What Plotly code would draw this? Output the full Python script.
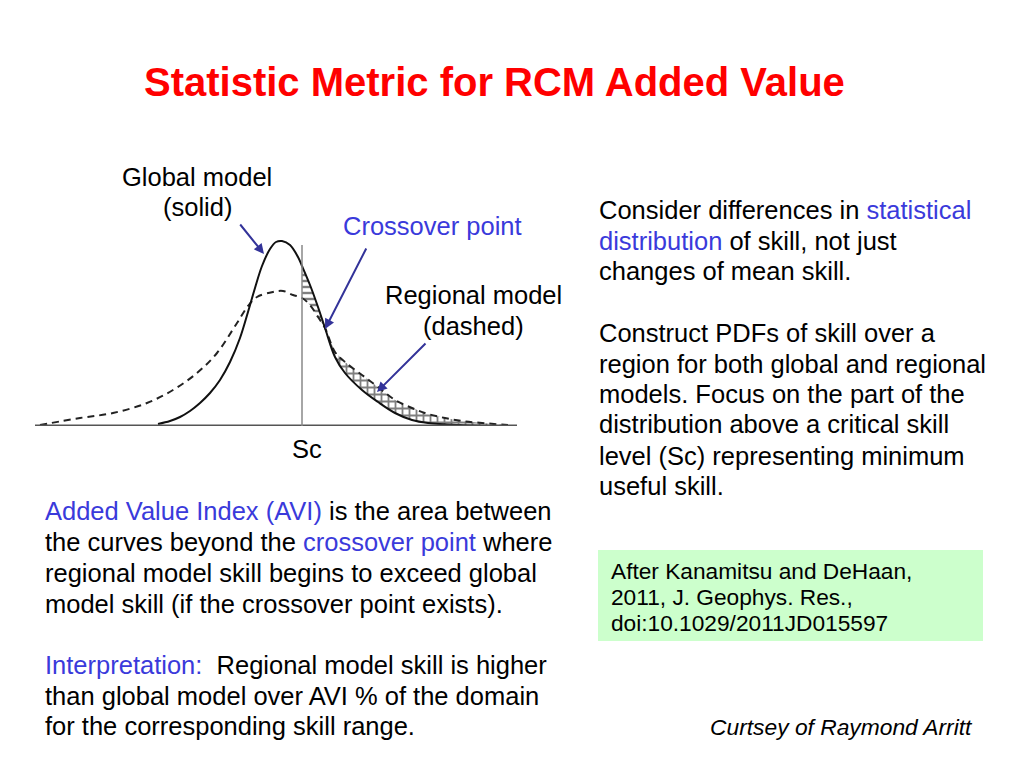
import plotly.graph_objects as go

# ---------------- data ----------------
# skill axis (arbitrary units) and PDF heights (arbitrary units)
global_skill = [158, 170, 180, 190, 200, 210, 220, 230, 240, 248, 255, 262, 270, 276, 282,
                290, 298, 302, 310, 318, 325, 335, 345, 362, 378, 395, 412, 428, 460, 510]
global_pdf = [2, 5, 9, 15, 23, 33, 46, 64, 88, 114, 138, 160, 177, 184, 185,
              181, 169, 160, 141, 119, 98, 69, 53, 36, 24, 13, 6, 3, 1, 0]

regional_skill = [40, 80, 113, 147, 173, 197, 217, 237, 248, 257, 273, 283, 293, 302, 310, 318, 325,
                  335, 345, 362, 378, 395, 412, 428, 445, 462, 482, 508]
regional_pdf = [1, 8, 13, 23, 36, 53, 73, 103, 120, 129, 134, 135, 131, 128, 121, 109, 98,
                74, 64, 51, 39, 26, 18, 12, 8, 5, 3, 1]

sc_value = 302          # critical skill level
crossover_value = 325   # crossover point
sc_line_top = 181

# ---------------- helpers ----------------
W, H = 1024, 768
FONT = "Liberation Sans, Arial, Helvetica, sans-serif"
BLUE = "#3A3ADB"
NAVY = "#333399"


def px(x):
    return x / W


def py(y):
    return 1 - y / H


fig = go.Figure()

# hatched region between Sc and crossover (global above regional)
h1_x = [s for s in global_skill if sc_value <= s <= crossover_value]
h1_y = [p for s, p in zip(global_skill, global_pdf) if sc_value <= s <= crossover_value]
r_part = [(s, p) for s, p in zip(regional_skill, regional_pdf) if sc_value <= s < crossover_value]
h1_x += [s for s, p in reversed(r_part)]
h1_y += [p for s, p in reversed(r_part)]
fig.add_trace(go.Scatter(x=h1_x, y=h1_y, fill="toself", mode="lines",
                         line=dict(width=0), fillcolor="rgba(255,255,255,0)",
                         fillpattern=dict(shape="-", fgcolor="black", bgcolor="white",
                                          size=6, solidity=0.4),
                         hoverinfo="skip", showlegend=False))

# cross-hatched region beyond crossover (regional above global) = AVI
h2 = [(s, p) for s, p in zip(regional_skill, regional_pdf) if s >= crossover_value]
g_part = [(s, p) for s, p in zip(global_skill, global_pdf) if s >= crossover_value]
h2_x = [s for s, p in h2] + [s for s, p in reversed(g_part)]
h2_y = [p for s, p in h2] + [p for s, p in reversed(g_part)]
fig.add_trace(go.Scatter(x=h2_x, y=h2_y, fill="toself", mode="lines",
                         line=dict(width=0), fillcolor="rgba(255,255,255,0)",
                         fillpattern=dict(shape="+", fgcolor="black", bgcolor="white",
                                          size=7, solidity=0.45),
                         hoverinfo="skip", showlegend=False))

# curves
fig.add_trace(go.Scatter(x=regional_skill, y=regional_pdf, mode="lines",
                         line=dict(color="#222", width=2, dash="7px,5px", shape="spline"),
                         showlegend=False, hoverinfo="skip"))
fig.add_trace(go.Scatter(x=global_skill, y=global_pdf, mode="lines",
                         line=dict(color="#111", width=2, shape="spline"),
                         showlegend=False, hoverinfo="skip"))

# baseline & Sc line
fig.add_shape(type="line", xref="x", yref="y", x0=35, x1=517, y0=0, y1=0,
              line=dict(color="#555", width=3))
fig.add_shape(type="line", xref="x", yref="y", x0=sc_value, x1=sc_value, y0=0, y1=sc_line_top,
              line=dict(color="#888", width=1.5))

fig.update_xaxes(range=[35, 517], domain=[px(35), px(517)], visible=False, fixedrange=True)
fig.update_yaxes(range=[0, 196], domain=[py(426), py(230)], visible=False, fixedrange=True)

# citation box
fig.add_shape(type="rect", xref="paper", yref="paper", x0=px(598), x1=px(983),
              y0=py(641), y1=py(550), fillcolor="#CCFFCC", line=dict(width=0), layer="below")

# arrows
arrows = [(264, 172, -25, -31), (crossover_value, 97, 42, -82), (377, 34, 50, -50)]
for x, y, ax, ay in arrows:
    fig.add_annotation(x=x, y=y, xref="x", yref="y", ax=ax, ay=ay, text="",
                       showarrow=True, arrowhead=2, arrowsize=1, arrowwidth=2,
                       arrowcolor=NAVY, standoff=0)


def txt(x, y, s, size=25.5, anchor="left", color="black", italic=False):
    fig.add_annotation(x=px(x), y=py(y), xref="paper", yref="paper", text=s,
                       showarrow=False, xanchor=anchor, yanchor="middle",
                       font=dict(family=FONT, size=size, color=color,
                                 style="italic" if italic else "normal"))


def blue(s):
    return f'<span style="color:{BLUE}">{s}</span>'


# title
txt(494, 82, "<b>Statistic Metric for RCM Added Value</b>", size=40, anchor="center", color="#FF0000")

# diagram labels
txt(197, 177, "Global model", anchor="center")
txt(197, 207, "(solid)", anchor="center")
txt(432, 226, "Crossover point", anchor="center", color=BLUE)
txt(473, 295, "Regional model", anchor="center")
txt(473, 326, "(dashed)", anchor="center")
txt(307, 449, "Sc", anchor="center")

# left text
left_lines = [
    (511, blue("Added Value Index (AVI)") + " is the area between"),
    (542, "the curves beyond the " + blue("crossover point") + " where"),
    (573, "regional model skill begins to exceed global"),
    (604, "model skill (if the crossover point exists)."),
    (665, blue("Interpretation:") + "  Regional model skill is higher"),
    (696, "than global model over AVI % of the domain"),
    (726, "for the corresponding skill range."),
]
for y, s in left_lines:
    txt(43, y, s)

right_lines = [
    (210, "Consider differences in " + blue("statistical")),
    (241, blue("distribution") + " of skill, not just"),
    (271, "changes of mean skill."),
    (333, "Construct PDFs of skill over a"),
    (364, "region for both global and regional"),
    (394, "models. Focus on the part of the"),
    (424, "distribution above a critical skill"),
    (456, "level (Sc) representing minimum"),
    (486, "useful skill."),
]
for y, s in right_lines:
    txt(597, y, s)

box_lines = [(571, "After Kanamitsu and DeHaan,"), (597, "2011, J. Geophys. Res.,"),
             (623, "doi:10.1029/2011JD015597")]
for y, s in box_lines:
    txt(609, y, s, size=22.7)

txt(975, 727, "Curtsey of Raymond Arritt", size=22.8, anchor="right", italic=True)

fig.update_layout(width=W, height=H, margin=dict(l=0, r=0, t=0, b=0),
                  paper_bgcolor="white", plot_bgcolor="white", showlegend=False)

fig.write_html("out.html", config={"displayModeBar": False},
               post_script="document.body.style.margin='0';")
